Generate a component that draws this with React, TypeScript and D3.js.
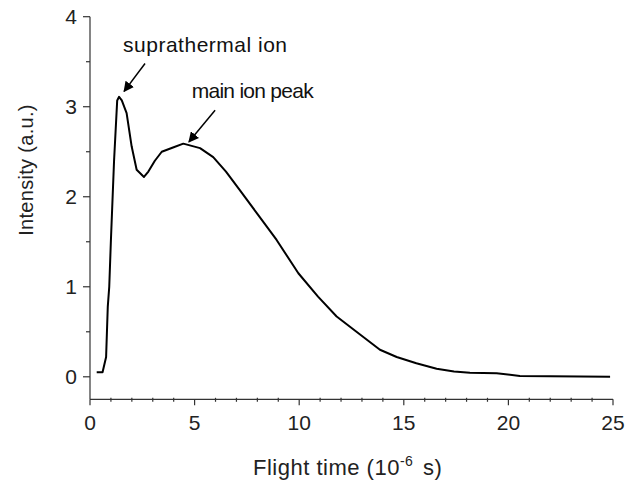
import * as d3 from "d3";

// flight time (10^-6 s) and intensity (a.u.)
const flightTime = [
  0.32, 0.6, 0.77, 0.85, 0.92, 1.0, 1.15, 1.3, 1.39, 1.52, 1.75, 1.99, 2.23,
  2.58, 2.79, 3.1, 3.43, 4.0, 4.46, 5.26, 5.89, 6.5, 7.17, 8.0, 8.92, 9.96,
  10.9, 11.79, 12.8, 13.86, 14.66, 15.6, 16.57, 17.4, 18.16, 19.44, 20.55, 22,
  24.86,
];
const intensity = [
  0.05, 0.05, 0.22, 0.78, 1.0, 1.52, 2.4, 3.07, 3.11, 3.07, 2.93, 2.56, 2.3,
  2.22, 2.28, 2.4, 2.5, 2.55, 2.59, 2.54, 2.44, 2.28, 2.07, 1.81, 1.52, 1.15,
  0.89, 0.67, 0.49, 0.3, 0.22, 0.15, 0.09, 0.06, 0.045, 0.04, 0.01, 0.005, 0,
];

const xTicks = [0, 5, 10, 15, 20, 25];
const yTicks = [0, 1, 2, 3, 4];

// annotations: label position and arrow (tail -> tip) in data units
const annotations = [
  { label: "suprathermal ion", tx: 1.58, ty: 3.61, x1: 2.63, y1: 3.48, x2: 1.63, y2: 3.17, len: 164 },
  { label: "main ion peak", tx: 4.86, ty: 3.1, x1: 5.98, y1: 2.96, x2: 4.73, y2: 2.61, len: 122 },
];

const W = 626;
const H = 481;
const font = "'Liberation Sans', Arial, sans-serif";

export default function App() {
  const x = d3.scaleLinear().domain([0, 25]).range([90, 613]);
  const y = d3.scaleLinear().domain([-0.25, 4]).range([399.3, 16.7]);

  const pts = flightTime.map((t, i) => [t, intensity[i]] as [number, number]);
  const line = d3
    .line<[number, number]>()
    .x((d) => x(d[0]))
    .y((d) => y(d[1]))
    .curve(d3.curveLinear);

  const xMinor = d3.range(0, 26, 1).filter((v) => v % 5 !== 0);
  const yMinor = d3.range(0.5, 4, 1);
  const axisY = y(-0.25);
  const axisX = x(0);

  return (
    <svg
      width={W}
      height={H}
      style={{ position: "absolute", left: 0, top: 0, background: "#fff" }}
      fontFamily={font}
    >
      <defs>
        <marker id="arr" viewBox="0 0 10 10" refX="9" refY="5" markerWidth="7" markerHeight="7" orient="auto">
          <path d="M0,0 L10,5 L0,10 z" fill="#000" />
        </marker>
      </defs>

      {/* axes */}
      <g stroke="#333" strokeWidth={1.2}>
        <line x1={axisX} x2={x(25)} y1={axisY} y2={axisY} />
        <line x1={axisX} x2={axisX} y1={y(-0.25)} y2={y(4)} />
        {xTicks.map((t) => (
          <line key={"xt" + t} x1={x(t)} x2={x(t)} y1={axisY} y2={axisY + 6} />
        ))}
        {xMinor.map((t) => (
          <line key={"xm" + t} x1={x(t)} x2={x(t)} y1={axisY - 1.5} y2={axisY + 2.5} />
        ))}
        {yTicks.map((t) => (
          <line key={"yt" + t} x1={axisX - 7} x2={axisX} y1={y(t)} y2={y(t)} />
        ))}
        {yMinor.map((t) => (
          <line key={"ym" + t} x1={axisX - 4} x2={axisX} y1={y(t)} y2={y(t)} />
        ))}
      </g>

      <g fill="#222" fontSize={21}>
        {xTicks.map((t) => (
          <text key={"xl" + t} x={x(t)} y={430} textAnchor="middle">
            {t}
          </text>
        ))}
        {yTicks.map((t) => (
          <text key={"yl" + t} x={77} y={y(t) + 7.5} textAnchor="end">
            {t}
          </text>
        ))}
      </g>

      <text x={253} y={475} fontSize={22} fill="#222" letterSpacing={0.5}>
        Flight time (10
        <tspan dy={-9} fontSize={14}>-6</tspan>
        <tspan dy={9} dx={3}> s)</tspan>
      </text>
      <text
        transform="translate(33,170) rotate(-90)"
        textAnchor="middle"
        fontSize={20}
        fill="#222"
        letterSpacing={0.3}
      >
        Intensity (a.u.)
      </text>

      <path d={line(pts) ?? ""} fill="none" stroke="#000" strokeWidth={2} strokeLinejoin="round" />

      {annotations.map((a) => (
        <g key={a.label}>
          <text x={x(a.tx)} y={y(a.ty)} fontSize={21} fill="#111" textLength={a.len} lengthAdjust="spacing">
            {a.label}
          </text>
          <line
            x1={x(a.x1)}
            y1={y(a.y1)}
            x2={x(a.x2)}
            y2={y(a.y2)}
            stroke="#000"
            strokeWidth={1.5}
            markerEnd="url(#arr)"
          />
        </g>
      ))}
    </svg>
  );
}
